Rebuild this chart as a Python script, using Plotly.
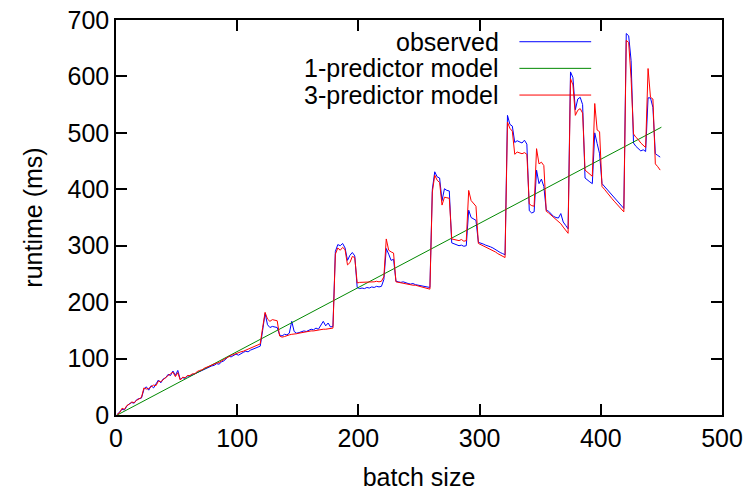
import plotly.graph_objects as go

# batch sizes (every 2nd size, 1..449)
batch = list(range(1, 450, 2))

observed = [
    1, 5, 10, 9, 16, 20, 22, 21, 27, 29,
    30, 45, 50, 44, 52, 48, 55, 62, 57, 64,
    66, 72, 70, 78, 70, 79, 63, 66, 65, 69,
    69, 71, 74, 75, 77, 79, 82, 83, 85, 87,
    88, 91, 90, 94, 96, 100, 104, 103, 106, 108,
    106, 109, 111, 113, 112, 115, 117, 119, 121, 122,
    150, 180, 160, 155, 157, 156, 155, 142, 140, 143,
    142, 145, 166, 148, 145, 146, 147, 149, 148, 150,
    152, 151, 154, 152, 160, 166, 158, 163, 156, 157,
    290, 302, 300, 304, 296, 274, 283, 288, 282, 226,
    224, 225, 224, 226, 225, 227, 226, 228, 227, 228,
    240, 295, 285, 274, 276, 237, 236, 235, 236, 234,
    233, 232, 233, 231, 230, 229, 229, 227, 227, 226,
    400, 431, 422, 420, 380, 401, 398, 397, 305, 303,
    302, 300, 301, 299, 300, 363, 350, 347, 345, 306,
    305, 303, 301, 300, 298, 296, 293, 291, 288, 286,
    284, 531, 515, 512, 483, 486, 484, 482, 487, 480,
    362, 358, 360, 434, 410, 418, 405, 363, 361, 356,
    352, 350, 349, 357, 342, 336, 330, 608, 598, 541,
    560, 563, 550, 420, 416, 413, 410, 500, 481, 463,
    410, 405, 400, 395, 390, 385, 380, 375, 369, 366,
    676, 672, 628, 482, 476, 472, 468, 470, 467, 562,
    562, 545, 463, 460, 457,
]

three_pred = [
    1, 4, 12, 10, 17, 19, 23, 22, 26, 28,
    31, 48, 46, 47, 50, 53, 52, 60, 59, 63,
    67, 70, 73, 76, 68, 75, 62, 67, 66, 70,
    70, 73, 73, 77, 79, 80, 83, 85, 87, 89,
    90, 92, 93, 96, 99, 101, 103, 106, 107, 109,
    110, 112, 113, 115, 117, 118, 121, 122, 124, 126,
    155, 182, 170, 166, 169, 168, 167, 140, 138, 139,
    141, 142, 143, 143, 144, 145, 146, 146, 147, 148,
    149, 149, 150, 151, 151, 152, 152, 153, 153, 154,
    285, 296, 292, 297, 293, 266, 270, 281, 279, 234,
    235, 235, 236, 235, 236, 236, 236, 237, 236, 237,
    245, 312, 292, 289, 287, 236, 235, 234, 234, 233,
    232, 231, 230, 230, 229, 228, 227, 226, 225, 223,
    395, 425, 416, 412, 372, 386, 385, 384, 312, 311,
    310, 309, 311, 308, 309, 398, 380, 375, 370, 304,
    302, 300, 297, 296, 294, 292, 289, 286, 284, 281,
    279, 519, 508, 503, 462, 466, 464, 463, 465, 462,
    374, 371, 370, 472, 445, 448, 442, 361, 358, 354,
    351, 347, 343, 339, 333, 327, 322, 596, 585, 531,
    540, 543, 535, 434, 430, 426, 423, 552, 505, 502,
    405, 400, 394, 389, 384, 379, 374, 369, 364, 360,
    664, 660, 596, 498, 492, 488, 482, 478, 474, 614,
    563, 560, 445, 440, 434,
]

# 1-predictor (linear) model evaluated at the ends of the range
one_pred_x = [1, 450]
one_pred_y = [0, 510]

x_ticks = [0, 100, 200, 300, 400, 500]
y_ticks = [0, 100, 200, 300, 400, 500, 600, 700]

series_names = ["observed", "1-predictor model", "3-predictor model"]
colors = ["#0000ff", "#008800", "#ff0000"]

FONT = "Liberation Sans, Arial, sans-serif"

fig = go.Figure()
fig.add_trace(go.Scatter(x=batch, y=observed, mode="lines", name=series_names[0],
                         line=dict(color=colors[0], width=1)))
fig.add_trace(go.Scatter(x=one_pred_x, y=one_pred_y, mode="lines", name=series_names[1],
                         line=dict(color=colors[1], width=1)))
fig.add_trace(go.Scatter(x=batch, y=three_pred, mode="lines", name=series_names[2],
                         line=dict(color=colors[2], width=1)))

# gnuplot-style legend: text right-aligned, sample line to the right
leg_rows = [0.945, 0.8776, 0.810]
for name, col, yy in zip(series_names, colors, leg_rows):
    fig.add_annotation(x=0.6356, y=yy, xref="paper", yref="paper", text=name,
                       showarrow=False, xanchor="right", yanchor="middle",
                       font=dict(family=FONT, size=25, color="black"))
    fig.add_shape(type="line", xref="paper", yref="paper",
                  x0=0.6657, x1=0.7841, y0=yy, y1=yy,
                  line=dict(color=col, width=1))

axis_common = dict(
    showline=True, linecolor="black", linewidth=1.5, mirror="allticks",
    ticks="inside", ticklen=11, tickwidth=1.5, tickcolor="black",
    showgrid=False, zeroline=False, automargin=False,
    tickfont=dict(family=FONT, size=25, color="black"),
)

fig.update_xaxes(range=[0, 500], tickvals=x_ticks,
                 title=dict(text="batch size", font=dict(family=FONT, size=25, color="black"), standoff=20),
                 **axis_common)
fig.update_yaxes(range=[0, 700], tickvals=y_ticks,
                 title=dict(text="runtime (ms)", font=dict(family=FONT, size=25, color="black"), standoff=18),
                 **axis_common)

fig.update_layout(
    width=745, height=491,
    margin=dict(l=116, r=23, t=20, b=76),
    plot_bgcolor="white", paper_bgcolor="white",
    showlegend=False,
    font=dict(family=FONT, size=25, color="black"),
)

fig.write_html("out.html")
